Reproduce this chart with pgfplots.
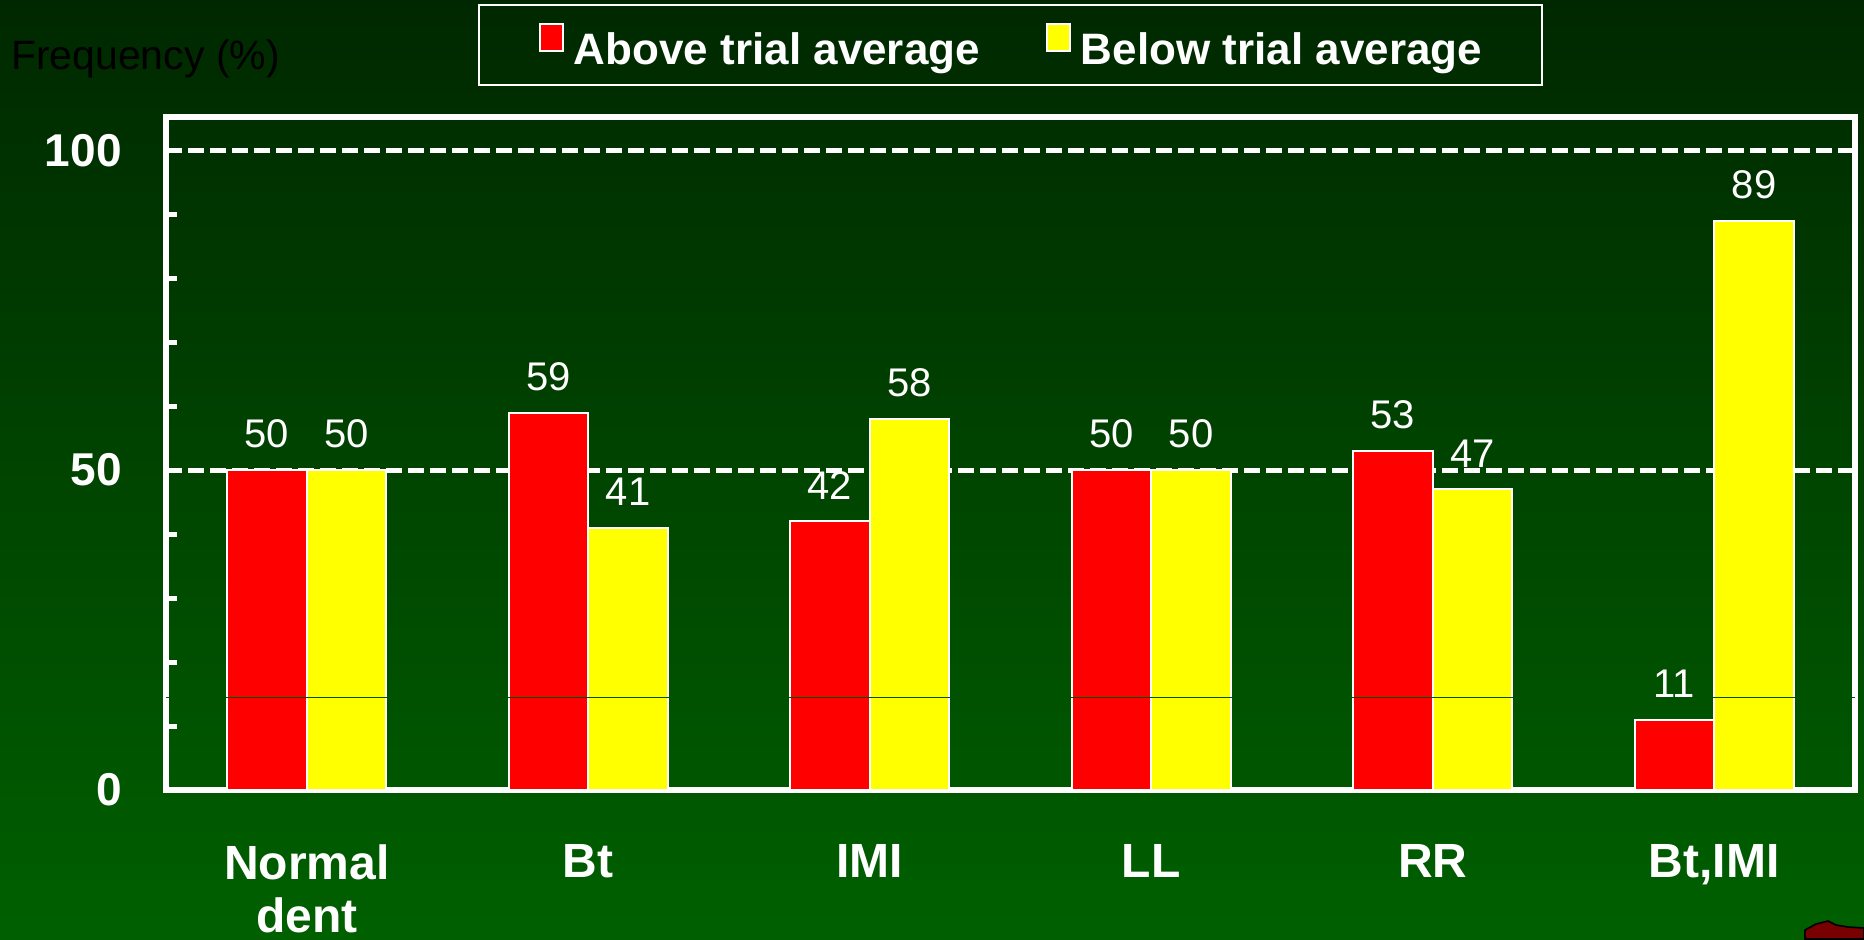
\documentclass[border=0pt]{standalone}
\usepackage{fontspec}
\setmainfont{Liberation Sans}
\usepackage{pgfplots}
\pgfplotsset{compat=1.18}
\usetikzlibrary{backgrounds,calc}
\definecolor{bgtop}{RGB}{0,40,0}
\definecolor{bgbot}{RGB}{0,96,0}
\definecolor{thinline}{RGB}{0,82,0}
\definecolor{arrowred}{RGB}{120,0,0}
\definecolor{barred}{RGB}{255,0,0}
\definecolor{baryellow}{RGB}{255,255,0}

\begin{document}
\begin{tikzpicture}
\begin{axis}[
  name=ax,
  scale only axis, width=844.5pt, height=336.5pt,
  xmin=-0.5, xmax=5.5, ymin=0, ymax=105.2,
  axis line style={white, line width=2.8pt},
  xtick={0,1,2,3,4,5},
  xticklabels={{Normal\\dent},Bt,IMI,LL,RR,{Bt,IMI}},
  xtick style={draw=none},
  ytick={0,50,100},
  minor ytick={10,20,30,40,60,70,80,90},
  ytick pos=left, tick align=inside,
  major tick length=5.5pt, minor tick length=5.5pt,
  every tick/.style={white, line width=2.5pt},
  every minor tick/.style={white, line width=2.5pt},
  every major tick/.style={white, line width=2.5pt},
  y tick style={white, line width=2.5pt},
  ymajorgrids,
  major grid style={white, line width=2.5pt, dash pattern=on 8pt off 3pt},
  /pgf/number format/assume math mode=true,
  yticklabel style={font=\bfseries\fontsize{23}{23}\selectfont, text=white, inner sep=0pt, xshift=-22pt},
  xticklabel style={font=\bfseries\fontsize{24}{26.5}\selectfont, text=white, align=center, anchor=north, inner sep=0pt, yshift=-27pt},
  ylabel={Frequency (\%)},
  every axis y label/.style={at={(rel axis cs:0,1)}, anchor=base west, xshift=-81pt, yshift=24pt, font=\fontsize{20.5}{20.5}\selectfont, text=black},
  legend columns=2,
  legend style={at={(0.5,1)}, anchor=south, yshift=15.5pt, draw=white, line width=1pt, fill=none, text=white,
    font=\bfseries\fontsize{22}{22}\selectfont, inner xsep=30pt, inner ysep=9pt,
    nodes={inner sep=0pt},
    /tikz/every odd column/.append style={column sep=5pt},
    /tikz/every even column/.append style={column sep=33pt}},
  every node near coord/.append style={font=\fontsize{20}{20}\selectfont, text=white, anchor=south, inner sep=0pt, yshift=10.5pt},
]
\addlegendimage{legend image code/.code={\draw[fill=barred, draw=white, line width=1pt] (0pt,-0.5pt) rectangle (11.5pt,13pt);}}
\addlegendentry{Above trial average}
\addlegendimage{legend image code/.code={\draw[fill=baryellow, draw=white, line width=1pt] (0pt,-0.5pt) rectangle (11.5pt,13pt);}}
\addlegendentry{Below trial average}

\addplot[ybar, bar width=0.2827, bar shift=0, fill=barred, draw=white, line width=1pt, nodes near coords, forget plot]
  coordinates {(-0.14135,50) (0.85865,59) (1.85865,42) (2.85865,50) (3.85865,53) (4.85865,11)};
\addplot[ybar, bar width=0.2827, bar shift=0, fill=baryellow, draw=white, line width=1pt, nodes near coords, forget plot]
  coordinates {(0.14135,50) (1.14135,41) (2.14135,58) (3.14135,50) (4.14135,47) (5.14135,89)};
\addplot[sharp plot, draw=thinline, line width=0.6pt, mark=none, forget plot]
  coordinates {(-0.5,14.4) (5.5,14.4)};
\end{axis}
\begin{pgfonlayer}{background}
\shade[top color=bgtop, bottom color=bgbot] ($(ax.south west)+(-83pt,-74.5pt)$) rectangle ($(ax.north east)+(4.5pt,58.5pt)$);
\end{pgfonlayer}
\coordinate (BR) at ($(ax.south east)+(4.5pt,-74.5pt)$);
\filldraw[fill=arrowred, draw=black, line width=0.8pt] ($(BR)+(-29.5pt,0pt)$) -- ($(BR)+(-29.5pt,4.5pt)$) -- ($(BR)+(-24pt,7.5pt)$) -- ($(BR)+(-18pt,9pt)$) -- ($(BR)+(-14pt,7pt)$) -- ($(BR)+(-8pt,6pt)$) -- ($(BR)+(0pt,5.5pt)$) -- ($(BR)+(0pt,0pt)$) -- cycle;
\pgfresetboundingbox
\path ($(ax.south west)+(-83pt,-74.5pt)$) rectangle ($(ax.north east)+(4.5pt,58.5pt)$);
\end{tikzpicture}
\end{document}
